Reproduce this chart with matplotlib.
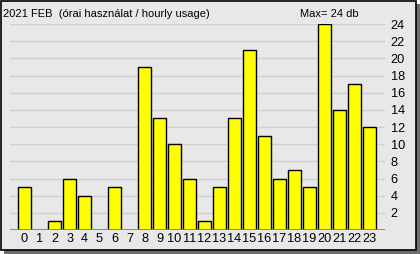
import matplotlib.pyplot as plt
from matplotlib.patches import Rectangle

# hourly usage, February 2021
hours = list(range(24))
usage = [5, 0, 1, 6, 4, 0, 5, 0, 19, 13, 10, 6, 1, 5, 13, 21, 11, 6, 7, 5, 24, 14, 17, 12]
yticks = list(range(2, 25, 2))
title = "2021 FEB  (órai használat / hourly usage)"
max_label = "Max= 24 db"

W, H = 420, 254
fig = plt.figure(figsize=(W / 100, H / 100), dpi=100)
fig.patch.set_facecolor('white')
plt.rcParams['font.family'] = ['Liberation Sans', 'DejaVu Sans']

# panel with shadow
fig.patches.append(Rectangle((4 / W, 0), 416 / W, 250 / H, transform=fig.transFigure,
                             facecolor='#6E6E6E', edgecolor='none', zorder=-2))
fig.patches.append(Rectangle((0.5 / W, 4.5 / H), 415 / W, 249 / H, transform=fig.transFigure,
                             facecolor='#E8E8E8', edgecolor='black', linewidth=1.2, zorder=-1))

ax = fig.add_axes([10 / W, 24 / H, 375 / W, 206 / H])
ax.set_zorder(2)
ax.set_facecolor('none')
ax.bar(hours, usage, width=0.83, color='#FFFF00', edgecolor='black', linewidth=1.0, zorder=3)
ax.set_xlim(-0.97, 24.03)
ax.set_ylim(0, 24)
for v in yticks:
    ax.axhline(v, color='#CFCFCF', linewidth=1.0, zorder=1)
ax.axhline(0, color='#808080', linewidth=1.2, zorder=4)

for s in ax.spines.values():
    s.set_visible(False)
ax.set_xticks(hours)
ax.set_xticklabels([str(h) for h in hours])
ax.set_yticks(yticks)
ax.yaxis.tick_right()
ax.tick_params(axis='both', length=0, labelsize=9.2, colors='black')
ax.tick_params(axis='x', pad=2.5)
ax.tick_params(axis='y', pad=4)

fig.text(3 / W, 1 - 14 / H, title, fontsize=8, va='center', ha='left')
fig.text(300 / W, 1 - 14 / H, max_label, fontsize=8, va='center', ha='left')

fig.savefig('out.png', dpi=100)
